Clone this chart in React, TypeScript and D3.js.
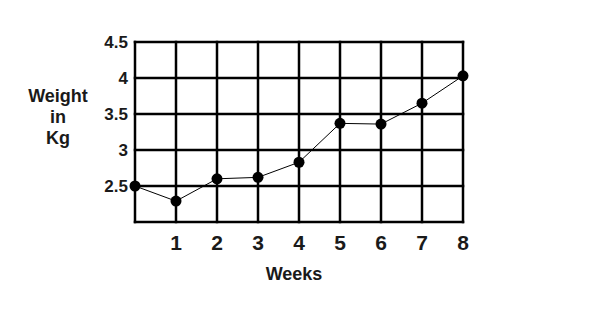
import React from "react";
import * as d3 from "d3";

const weeks = [0, 1, 2, 3, 4, 5, 6, 7, 8];
const weights = [2.5, 2.29, 2.6, 2.62, 2.83, 3.37, 3.36, 3.65, 4.03];
const xTicks = [1, 2, 3, 4, 5, 6, 7, 8];
const yTicks = [2.5, 3, 3.5, 4, 4.5];
const yTickLabels = ["2.5", "3", "3.5", "4", "4.5"];

export default function App() {
  const W = 594, H = 328;
  const x = d3.scaleLinear().domain([0, 8]).range([135, 463]);
  const y = d3.scaleLinear().domain([2, 4.5]).range([222, 42]);
  const line = d3.line<number>().x((_, i) => x(weeks[i])).y((d) => y(d));
  const gridX = d3.range(0, 9);
  const gridY = [2, 2.5, 3, 3.5, 4, 4.5];
  const font = "Arial, 'Liberation Sans', sans-serif";
  return (
    <svg width={W} height={H} style={{ position: "absolute", left: 0, top: 0, background: "#fff" }}>
      <rect width={W} height={H} fill="#fff" />
      {gridX.map((g) => (
        <line key={"gx" + g} x1={x(g)} x2={x(g)} y1={y(2) + 1.25} y2={y(4.5) - 1.25} stroke="#000" strokeWidth={2.5} />
      ))}
      {gridY.map((g) => (
        <line key={"gy" + g} x1={x(0) - 1.25} x2={x(8) + 1.25} y1={y(g)} y2={y(g)} stroke="#000" strokeWidth={2.5} />
      ))}
      <path d={line(weights) || ""} fill="none" stroke="#000" strokeWidth={1} />
      {weights.map((v, i) => (
        <circle key={i} cx={x(weeks[i])} cy={y(v)} r={5.5} fill="#000" />
      ))}
      {yTicks.map((t, i) => (
        <text key={"yt" + t} x={128} y={y(t)} dy="0.36em" textAnchor="end" fontFamily={font} fontWeight="bold" fontSize={17} fill="#1a1a1a">
          {yTickLabels[i]}
        </text>
      ))}
      {xTicks.map((t) => (
        <text key={"xt" + t} x={x(t)} y={242} dy="0.36em" textAnchor="middle" fontFamily={font} fontWeight="bold" fontSize={21} fill="#1a1a1a">
          {t}
        </text>
      ))}
      <text x={294} y={274} dy="0.36em" textAnchor="middle" fontFamily={font} fontWeight="bold" fontSize={18} fill="#1a1a1a">
        Weeks
      </text>
      <text textAnchor="middle" fontFamily={font} fontWeight="bold" fontSize={18} fill="#1a1a1a">
        <tspan x={58} y={96} dy="0.36em">Weight</tspan>
        <tspan x={58} y={117} dy="0.36em">in</tspan>
        <tspan x={58} y={138} dy="0.36em">Kg</tspan>
      </text>
    </svg>
  );
}
